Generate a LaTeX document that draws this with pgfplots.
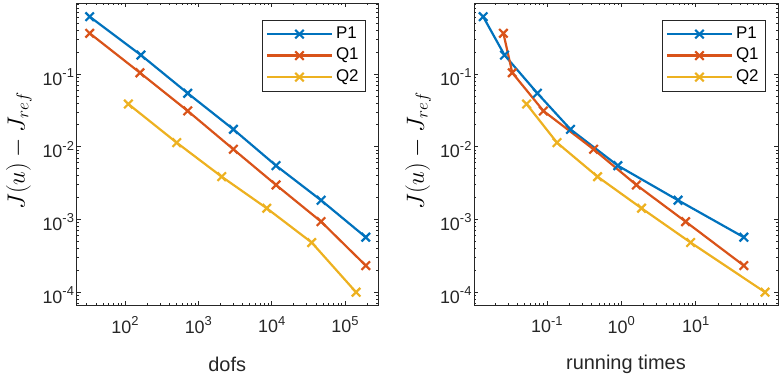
\documentclass[border=0pt]{standalone}
\usepackage{fontspec}
\setmainfont{Liberation Sans}
\usepackage{pgfplots}
\pgfplotsset{compat=1.18}

\definecolor{mblue}{rgb}{0,0.447,0.741}
\definecolor{mred}{rgb}{0.85,0.325,0.098}
\definecolor{myellow}{rgb}{0.929,0.694,0.125}
\definecolor{axgray}{rgb}{0.15,0.15,0.15}

% superscript for the tick labels, MATLAB-like
\newcommand\sups[1]{\raisebox{0.42em}{\fontsize{13}{13}\selectfont #1}}

\pgfplotsset{
  legend image code/.code={
    \draw[mark repeat=2,mark phase=2,#1]
      plot coordinates {(0bp,0bp) (32.5bp,0bp) (65bp,0bp)};},
  mline/.style={line width=2.2bp, mark=x,
    mark options={solid, line width=2.2bp, mark size=6bp}},
  mplot/.style={
    scale only axis,
    height=302bp,
    axis line style={axgray, line width=0.8bp},
    every tick/.style={axgray, line width=0.6bp},
    tick align=inside,
    major tick length=4.5bp, minor tick length=2.5bp,
    ymin=6.62e-5, ymax=0.948,
    ytick={1e-4,1e-3,1e-2,1e-1},
    yticklabels={10\sups{-4},10\sups{-3},10\sups{-2},10\sups{-1}},
    minor ytick={7e-5,8e-5,9e-5,2e-4,3e-4,4e-4,5e-4,6e-4,7e-4,8e-4,9e-4,
      2e-3,3e-3,4e-3,5e-3,6e-3,7e-3,8e-3,9e-3,
      2e-2,3e-2,4e-2,5e-2,6e-2,7e-2,8e-2,9e-2,
      0.2,0.3,0.4,0.5,0.6,0.7,0.8,0.9},
    tick label style={font=\fontsize{18}{18}\selectfont, text=axgray},
    xticklabel style={yshift=-8bp},
    yticklabel style={yshift=-3bp, xshift=1bp},
    ylabel={$J(u)-J_{ref}$},
    ylabel style={anchor=center, font=\fontsize{23}{23}\selectfont},
    xlabel style={at={(axis description cs:0.5,0)}, anchor=base,
      font=\fontsize{20}{20}\selectfont, text=axgray},
    legend style={at={(axis description cs:1,1)}, anchor=north east,
      xshift=-12bp, yshift=-17bp,
      draw=axgray, line width=0.7bp,
      inner xsep=4bp, inner ysep=3bp,
      font=\fontsize{17}{17}\selectfont,
      nodes={inner sep=3bp, text height=12bp, text depth=3.5bp},
      cells={anchor=west}},
  }
}

\begin{document}
\begin{tikzpicture}
\path[use as bounding box] (0,0) rectangle (781bp,375bp);

% left: error against dofs
\begin{axis}[xmode=log, ymode=log, mplot,
  at={(76.5bp,70bp)}, anchor=south west, width=301.5bp,
  xmin=21.8, xmax=2.82e5,
  xtick={1e2,1e3,1e4,1e5},
  xticklabels={10\sups{2},10\sups{3},10\sups{4},10\sups{5}},
  minor xtick={30,40,50,60,70,80,90,200,300,400,500,600,700,800,900,
    2000,3000,4000,5000,6000,7000,8000,9000,
    2e4,3e4,4e4,5e4,6e4,7e4,8e4,9e4,2e5},
  xlabel={dofs},
  xlabel style={yshift=-66bp},
  ylabel style={at={(axis description cs:-0.191,0.51)}},
]
\addplot[mline, mblue] coordinates {
  (33,0.614) (165,0.182) (717,0.0543) (3006,0.0173)
  (11480,0.00548) (47200,0.00183) (192000,0.000567)};
\addlegendentry{P1\hspace{7bp}}
\addplot[mline, mred] coordinates {
  (33,0.363) (160,0.104) (717,0.031) (3006,0.0092)
  (11480,0.00297) (47200,0.00093) (192000,0.000231)};
\addlegendentry{Q1\hspace{7bp}}
\addplot[mline, myellow] coordinates {
  (111,0.0386) (507,0.01135) (2084,0.00386) (8570,0.00142)
  (35200,0.000479) (141600,0.0000993)};
\addlegendentry{Q2\hspace{7bp}}
\end{axis}

% right: error against running times
\begin{axis}[xmode=log, ymode=log, mplot,
  at={(474bp,70bp)}, anchor=south west, width=304bp,
  xmin=0.0105, xmax=128,
  xtick={0.1,1,10},
  xticklabels={10\sups{-1},10\sups{0},10\sups{1}},
  minor xtick={0.02,0.03,0.04,0.05,0.06,0.07,0.08,0.09,
    0.2,0.3,0.4,0.5,0.6,0.7,0.8,0.9,2,3,4,5,6,7,8,9,
    20,30,40,50,60,70,80,90},
  xlabel={running times},
  xlabel style={yshift=-64bp},
  ylabel style={at={(axis description cs:-0.184,0.51)}},
]
\addplot[mline, mblue] coordinates {
  (0.01396,0.614) (0.027,0.182) (0.0747,0.0543) (0.208,0.0173)
  (0.90,0.00548) (5.8,0.00183) (44.4,0.000567)};
\addlegendentry{P1\hspace{7bp}}
\addplot[mline, mred] coordinates {
  (0.0261,0.363) (0.0343,0.104) (0.090,0.031) (0.425,0.0092)
  (1.60,0.00297) (7.33,0.00093) (44.4,0.000231)};
\addlegendentry{Q1\hspace{7bp}}
\addplot[mline, myellow] coordinates {
  (0.0534,0.0386) (0.137,0.01135) (0.481,0.00386) (1.875,0.00142)
  (8.57,0.000479) (85.7,0.0000993)};
\addlegendentry{Q2\hspace{7bp}}
\end{axis}
\end{tikzpicture}
\end{document}
